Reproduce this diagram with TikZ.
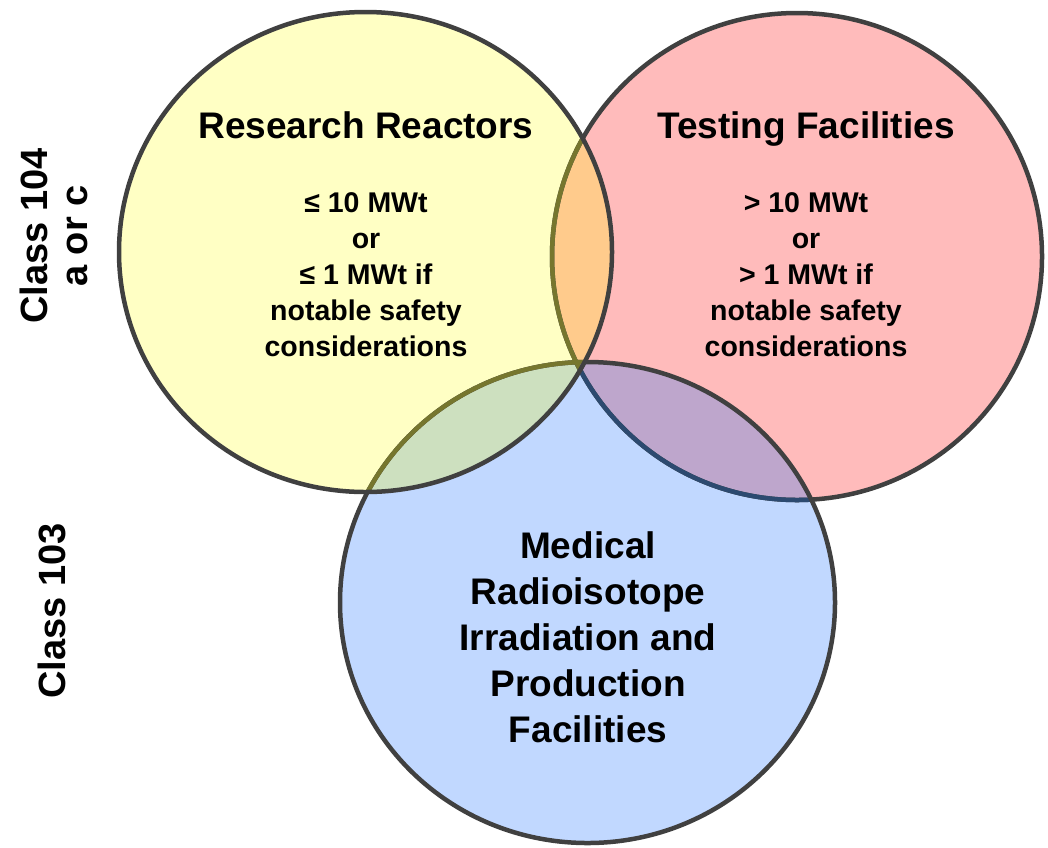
\documentclass[tikz,border=0pt]{standalone}
\usepackage{fontspec}
\setmainfont{Liberation Sans}
\definecolor{reactoryellow}{HTML}{FFFFC4}
\definecolor{testingred}{HTML}{FFBBBB}
\definecolor{medicalblue}{HTML}{C1D8FF}
\definecolor{orangemix}{HTML}{FFCB8C}
\definecolor{greenmix}{HTML}{CDE0BF}
\definecolor{purplemix}{HTML}{BEA6CC}
\definecolor{ringgray}{HTML}{404040}
\definecolor{ringolive}{HTML}{76762E}
\definecolor{ringblue}{HTML}{2C4A70}

\begin{document}
\begin{tikzpicture}[
        x=1pt, y=-1pt,
        ring/.style={draw=ringgray, line width=4.5pt},
        title/.style={font=\bfseries\fontsize{37}{46}\selectfont, align=center},
        small/.style={font=\bfseries\fontsize{28.5}{36}\selectfont, align=center},
        side/.style={font=\bfseries\fontsize{38}{40}\selectfont, align=center, rotate=90},
    ]
    \useasboundingbox (0,0) rectangle (1048,847);

    \def\yellowdisc{(365.5,252) ellipse [x radius=246.5, y radius=240]}
    \def\reddisc{(797,256.5) ellipse [x radius=245, y radius=243.5]}
    \def\bluedisc{(587.5,602.5) ellipse [x radius=247.5, y radius=240.5]}

    % fills
    \fill[testingred] \reddisc;
    \fill[medicalblue] \bluedisc;
    \fill[reactoryellow] \yellowdisc;
    \begin{scope}
        \clip \yellowdisc;
        \fill[orangemix] \reddisc;
        \fill[greenmix] \bluedisc;
    \end{scope}
    \begin{scope}
        \clip \bluedisc;
        \fill[purplemix] \reddisc;
    \end{scope}

    % rings
    \draw[ring] \reddisc;
    \begin{scope}
        \clip \bluedisc;
        \draw[ring, draw=ringblue] \reddisc;
    \end{scope}
    \draw[ring] \bluedisc;
    \begin{scope}
        \clip \yellowdisc;
        \draw[ring, draw=ringolive] \reddisc;
        \draw[ring, draw=ringolive] \bluedisc;
    \end{scope}
    \draw[ring] \yellowdisc;

    % labels
    \node[title, anchor=base] (research) at (366,138) {Research Reactors};
    \node[small] (researchpower) at (366,275)
        {≤ 10 MWt\\or\\≤ 1 MWt if\\notable safety\\considerations};
    \node[title, anchor=base] (testing) at (806,138) {Testing Facilities};
    \node[small] (testingpower) at (806,275)
        {> 10 MWt\\or\\> 1 MWt if\\notable safety\\considerations};
    \node[title] (medical) at (588,637)
        {Medical\\Radioisotope\\Irradiation and\\Production\\Facilities};

    \node[side] (classfour) at (54,236) {Class 104\\a or c};
    \node[side] (classthree) at (52,611) {Class 103};
\end{tikzpicture}
\end{document}
